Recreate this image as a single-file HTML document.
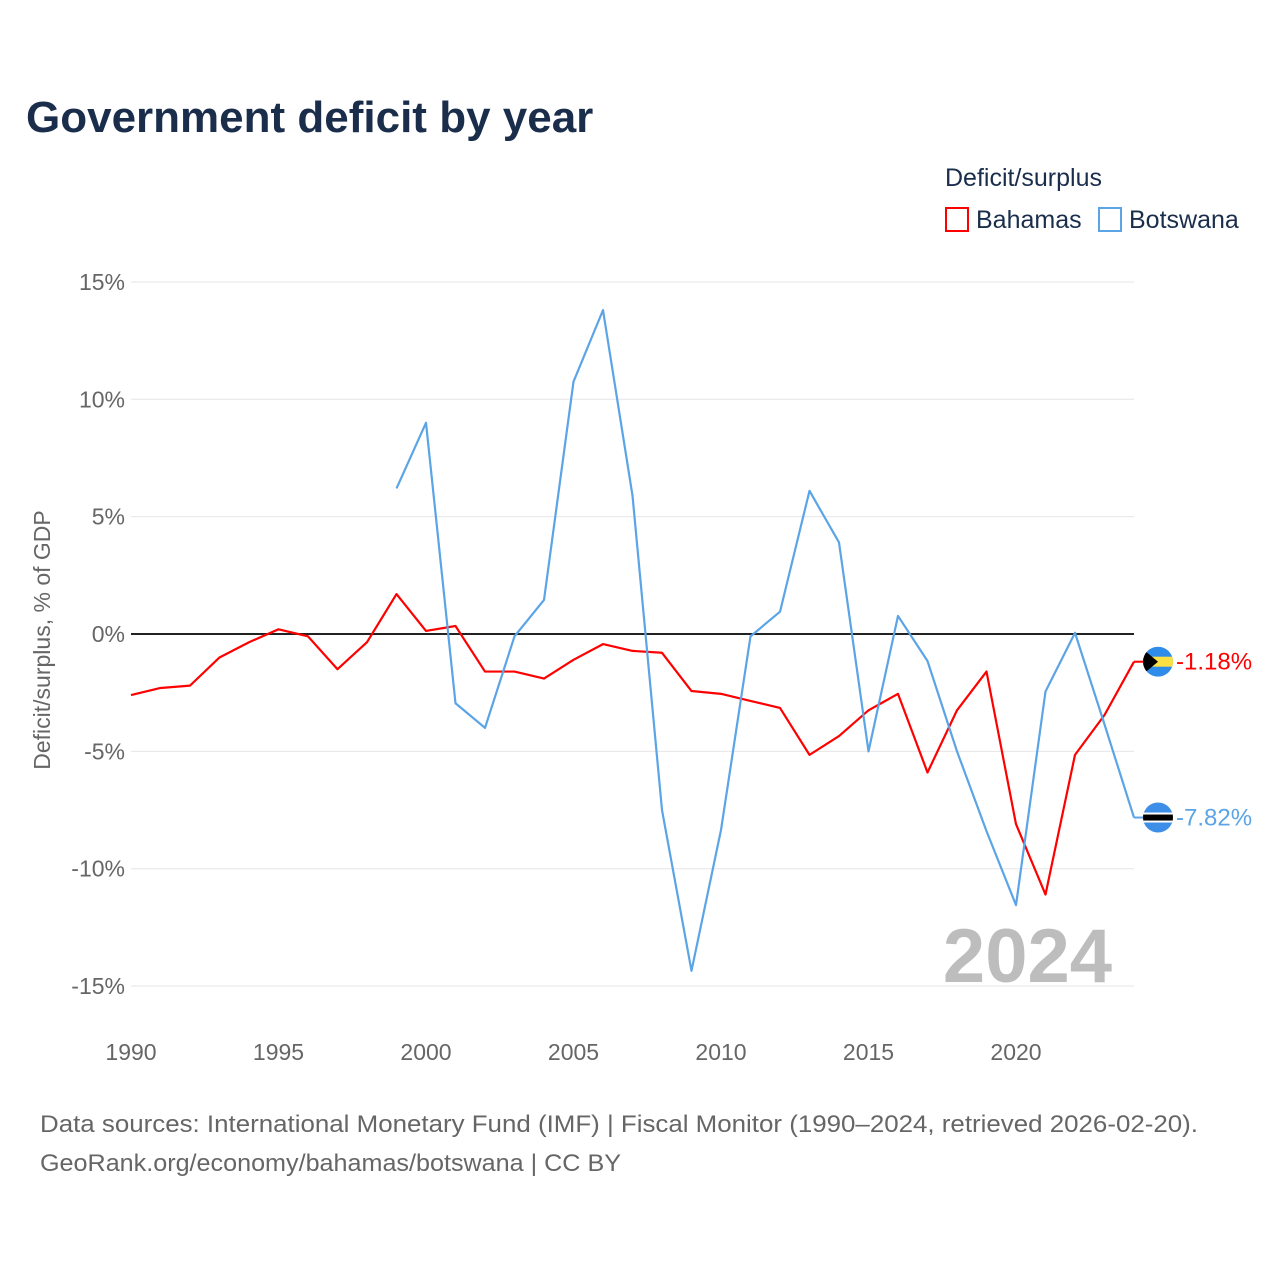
<!DOCTYPE html>
<html><head><meta charset="utf-8"><style>
body{margin:0;background:#fff;font-family:"Liberation Sans",sans-serif}
svg text{font-family:"Liberation Sans",sans-serif}
</style></head><body>
<svg width="1280" height="1280" viewBox="0 0 1280 1280" id="chart">
<text x="26" y="132" font-size="44" font-weight="bold" fill="#1a2e4c">Government deficit by year</text>
<text x="945" y="186" font-size="25" fill="#1a2e4c">Deficit/surplus</text>
<g><rect x="946" y="208" width="22" height="23" fill="none" stroke="#ff0000" stroke-width="2"/><text x="976" y="228" font-size="25" fill="#1a2e4c">Bahamas</text></g>
<g><rect x="1099" y="208" width="22" height="23" fill="none" stroke="#5ba4e6" stroke-width="2"/><text x="1129" y="228" font-size="25" fill="#1a2e4c">Botswana</text></g>
<text transform="translate(50,640) rotate(-90)" text-anchor="middle" font-size="23" fill="#666">Deficit/surplus, % of GDP</text>
<g id="grid"></g><g id="yt"></g><g id="xt"></g>
<text x="1112" y="982" text-anchor="end" font-size="76" font-weight="bold" fill="#bdbdbd">2024</text>
<g id="series"></g>
<text x="40" y="1132" font-size="24" fill="#666" textLength="1158" lengthAdjust="spacingAndGlyphs">Data sources: International Monetary Fund (IMF) | Fiscal Monitor (1990–2024, retrieved 2026-02-20).</text>
<text x="40" y="1171" font-size="24" fill="#666" textLength="581" lengthAdjust="spacingAndGlyphs">GeoRank.org/economy/bahamas/botswana | CC BY</text>
</svg>
<script>
const years=[];for(let y=1990;y<=2024;y++)years.push(y);
const bahamas=[-2.6,-2.3,-2.2,-1.0,-0.35,0.2,-0.1,-1.5,-0.35,1.7,0.13,0.34,-1.6,-1.6,-1.9,-1.1,-0.43,-0.72,-0.8,-2.43,-2.55,-2.85,-3.15,-5.15,-4.35,-3.25,-2.55,-5.9,-3.25,-1.6,-8.1,-11.1,-5.15,-3.45,-1.18];
const botswana=[null,null,null,null,null,null,null,null,null,6.2,9.0,-2.95,-4.0,-0.1,1.45,10.75,13.8,5.9,-7.5,-14.35,-8.35,-0.1,0.95,6.1,3.9,-5.0,0.77,-1.15,-5.0,-8.4,-11.55,-2.45,0.05,-3.85,-7.82];
const yTicks=[15,10,5,0,-5,-10,-15];
const xTicks=[1990,1995,2000,2005,2010,2015,2020];
const ns="http://www.w3.org/2000/svg";
const X=y=>131+(y-1990)*29.5, Y=v=>634-v*23.47;
function mk(t,a,p){const e=document.createElementNS(ns,t);for(const k in a)e.setAttribute(k,a[k]);document.getElementById(p).appendChild(e);return e;}
yTicks.forEach(v=>{
 const l=mk('line',{x1:131,x2:1134,y1:Y(v),y2:Y(v),stroke:v===0?'#222':'#e6e6e6','stroke-width':v===0?2:1},'grid');
 
 
 const t=mk('text',{x:125,y:Y(v)+8,'text-anchor':'end','font-size':23,fill:'#666'},'yt');
 t.textContent=(v<0?'-':'')+Math.abs(v)+'%';
 
 
});
xTicks.forEach(y=>{
 const t=mk('text',{x:X(y),y:1060,'text-anchor':'middle','font-size':23,fill:'#666'},'xt');
 t.textContent=y;
 
 
});
function line(vals,color,name){
 let d='';let pen=false;
 vals.forEach((v,i)=>{if(v===null){pen=false;return;}d+=(pen?'L':'M')+X(years[i])+' '+Y(v);pen=true;});
 const p=mk('path',{d:d,fill:'none',stroke:color,'stroke-width':2.2,'stroke-linejoin':'round'},'series');
 
 
 const last=vals[vals.length-1];
 mk('line',{x1:1134,x2:1150,y1:Y(last),y2:Y(last),stroke:color,'stroke-width':2},'series');
 const t=mk('text',{x:1176,y:Y(last)+8,'font-size':24,fill:color},'series');
 t.textContent=(last<0?'-':'')+Math.abs(last).toFixed(2)+'%';
 
 
 return Y(last);
}
const yb=line(bahamas,'#ff0000','bahamas-line');
const yw=line(botswana,'#5ba4e6','botswana-line');
const fb=mk('g',{},'series');


fb.innerHTML=`<clipPath id="cb"><circle cx="1158" cy="${yb}" r="15"/></clipPath><g clip-path="url(#cb)"><rect x="1140" y="${yb-15}" width="36" height="30" fill="#2f8ce8"/><rect x="1140" y="${yb-5}" width="36" height="10" fill="#fae042"/><polygon points="1140,${yb-15} 1158,${yb} 1140,${yb+15}" fill="#000"/></g>`;
const fw=mk('g',{},'series');


fw.innerHTML=`<clipPath id="cw"><circle cx="1158" cy="${yw}" r="15"/></clipPath><g clip-path="url(#cw)"><rect x="1140" y="${yw-15}" width="36" height="30" fill="#3d8ee6"/><rect x="1140" y="${yw-5}" width="36" height="10" fill="#fff"/><rect x="1140" y="${yw-3}" width="36" height="6" fill="#000"/></g>`;
</script>
</body></html>
